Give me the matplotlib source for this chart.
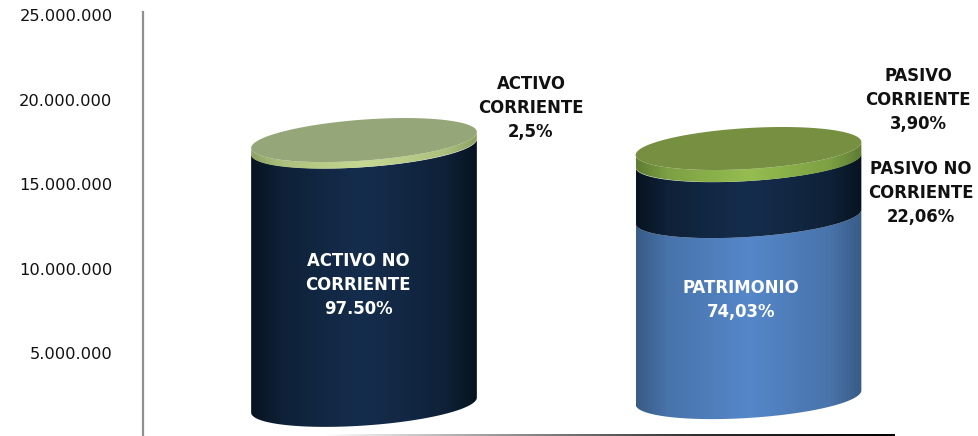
import numpy as np
import matplotlib
matplotlib.use('Agg')
import matplotlib.pyplot as plt
from matplotlib.colors import LinearSegmentedColormap, to_rgb
from matplotlib.patches import Polygon

W, H = 979, 436

# datos
categorias = ['ACTIVO', 'PASIVO Y PATRIMONIO']
base = [1920000, 2370000]
activo_valores = [15290000, 390000]
pasivo_valores = [10710000, 3310000, 710000]
y_ticks = [5000000, 10000000, 15000000, 20000000, 25000000]
y_labels = ['5.000.000', '10.000.000', '15.000.000', '20.000.000', '25.000.000']

ESCALA = 5000000 / 84.5  # valor por pixel


def px_x(p):
    return (p - 364) / 384.5


def px_y(p):
    return (437.5 - p) * ESCALA


fig = plt.figure(figsize=(W / 100, H / 100), dpi=100)
izq, der, arr, aba = 143, 895, 12, 435.5
ax = fig.add_axes([izq / W, 1 - aba / H, (der - izq) / W, (aba - arr) / H])
ax.set_xlim(px_x(izq), px_x(der))
ax.set_ylim(px_y(aba), px_y(arr))
for lado in ['top', 'right', 'bottom']:
    ax.spines[lado].set_visible(False)
ax.spines['left'].set_color('#8f8f8f')
ax.spines['left'].set_linewidth(1.6)
ax.set_xticks([])
ax.set_yticks(y_ticks)
ax.set_yticklabels(y_labels, fontsize=11.7, color='#111111')
ax.tick_params(axis='y', length=0, pad=22)

SEMI_X = 0.2935
SEMI_Y = 20.5 * ESCALA
T = np.linspace(0, 2 * np.pi, 240)


def elipse(cx, yc, sesgo):
    xs = cx + SEMI_X * np.cos(T)
    ys = yc + SEMI_Y * np.sin(T) + sesgo * ESCALA * np.cos(T)
    return np.column_stack([xs, ys])


def tramo(cx, y0, y1, sesgo, borde, centro):
    # tramo del cilindro: borde inferior de y0 y superior de y1, con degradado
    t = np.linspace(np.pi, 2 * np.pi, 120)
    abajo = np.column_stack([cx + SEMI_X * np.cos(t),
                             y0 + SEMI_Y * np.sin(t) + sesgo * ESCALA * np.cos(t)])
    t2 = t[::-1]
    arriba = np.column_stack([cx + SEMI_X * np.cos(t2),
                              y1 + SEMI_Y * np.sin(t2) + sesgo * ESCALA * np.cos(t2)])
    poly = Polygon(np.vstack([abajo, arriba]), closed=True, transform=ax.transData,
                   facecolor='none', edgecolor='none')
    ax.add_patch(poly)
    # el borde oscuro cae rapido y luego queda casi plano hasta el centro
    b, c = np.array(to_rgb(borde)), np.array(to_rgb(centro))
    medio = tuple(b + 0.55 * (c - b))
    cmap = LinearSegmentedColormap.from_list('g', [(0, borde), (0.14, medio), (0.5, centro),
                                                   (0.86, medio), (1, borde)])
    grad = np.linspace(0, 1, 256).reshape(1, -1)
    im = ax.imshow(grad, cmap=cmap, aspect='auto', interpolation='bilinear',
                   extent=[cx - SEMI_X, cx + SEMI_X, y0 - 2 * SEMI_Y, y1 + 2 * SEMI_Y],
                   zorder=2)
    im.set_clip_path(poly)


def tapa(cx, yc, sesgo, color):
    ax.add_patch(Polygon(elipse(cx, yc, sesgo), closed=True, facecolor=color,
                         edgecolor='none', zorder=3))


navy = ('#07131f', '#152d4d')
azul = ('#395b86', '#5587c9')

# cilindro izquierdo
y = base[0]
tramo(0, y, y + activo_valores[0], 7.5, *navy)
y += activo_valores[0]
tramo(0, y, y + activo_valores[1], 8, '#8da263', '#c6d993')
y += activo_valores[1]
tapa(0, y, 8, '#95a678')

# cilindro derecho
y = base[1]
sesgos = [7, 7, 6.5]
colores = [azul, navy, ('#5f7c33', '#95bd50')]
for v, s, c in zip(pasivo_valores, sesgos, colores):
    tramo(1, y, y + v, s, *c)
    y += v
tapa(1, y, 6.5, '#768f40')

ax.set_xlim(px_x(izq), px_x(der))
ax.set_ylim(px_y(aba), px_y(arr))

# etiquetas
et = dict(fontsize=11.9, fontweight='bold', ha='center', va='center',
          linespacing=1.4, zorder=5)
ax.text(px_x(358), px_y(285), 'ACTIVO NO\nCORRIENTE\n97.50%', color='white', **et)
ax.text(px_x(741), px_y(300), 'PATRIMONIO\n74,03%', color='white', **et)
ax.text(px_x(531), px_y(108), 'ACTIVO\nCORRIENTE\n2,5%', color='#111111', **et)
ax.text(px_x(918), px_y(100), 'PASIVO\nCORRIENTE\n3,90%', color='#111111', **et)
ax.text(px_x(921), px_y(193), 'PASIVO NO\nCORRIENTE\n22,06%', color='#111111', clip_on=False, **et)

# linea base con degradado
ax2 = fig.add_axes([323 / W, 1 - 436 / H, (895 - 323) / W, 1.6 / H])
ax2.axis('off')
cm_linea = LinearSegmentedColormap.from_list('l', [(0, '#ffffff'), (0.28, '#a0a0a0'),
                                                    (0.65, '#303030'), (1, '#000000')])
ax2.imshow(np.linspace(0, 1, 256).reshape(1, -1), cmap=cm_linea, aspect='auto')

fig.savefig('out.png', dpi=100, facecolor='white')
